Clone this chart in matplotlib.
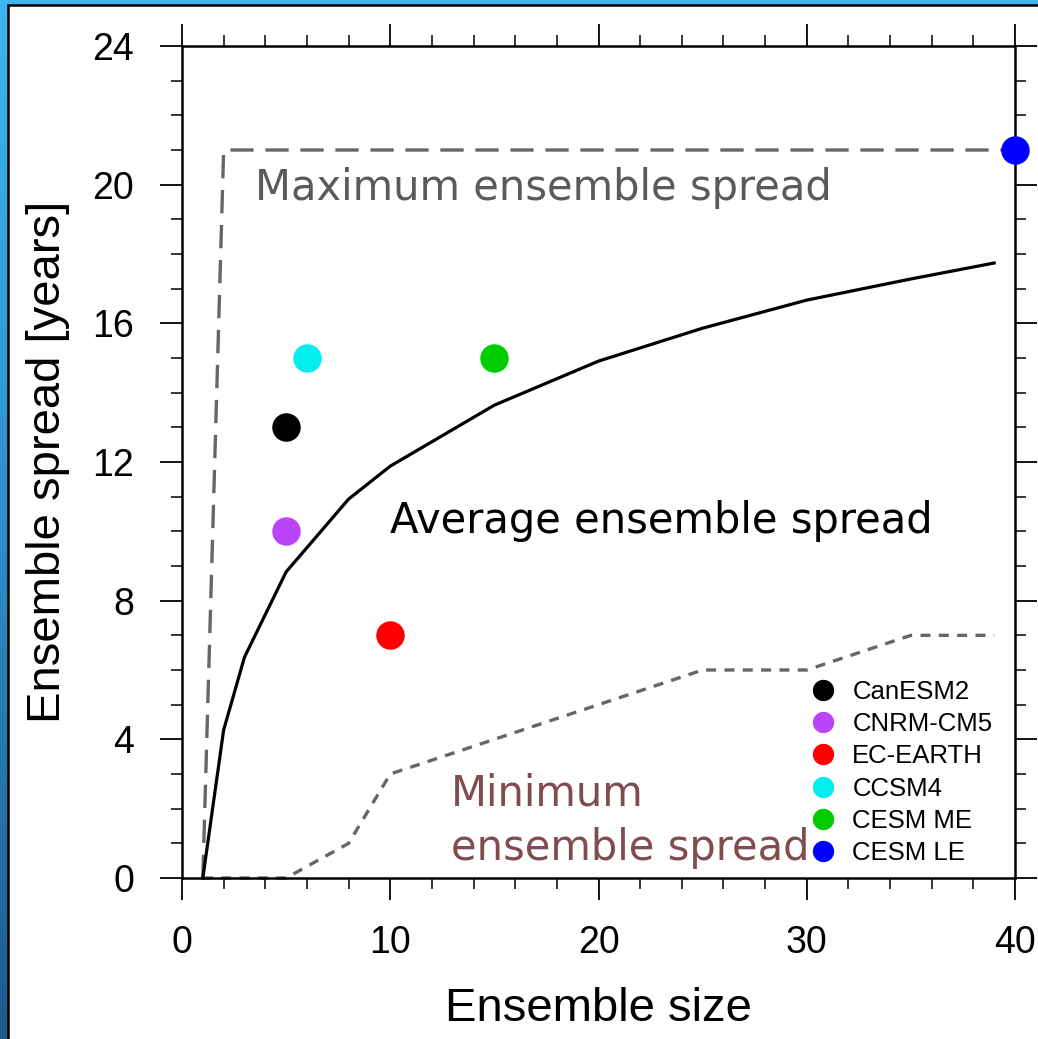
import numpy as np
import matplotlib
matplotlib.use("Agg")
import matplotlib.pyplot as plt
from matplotlib.patches import Rectangle
from matplotlib.ticker import MultipleLocator
from matplotlib.colors import LinearSegmentedColormap

# ---------------- data ----------------
avg_x = [1, 2, 3, 5, 8, 10, 15, 20, 25, 30, 35, 39]
avg_y = [0, 4.27, 6.37, 8.83, 10.93, 11.88, 13.64, 14.91, 15.86, 16.67, 17.28, 17.74]

max_x = [1, 2, 40]
max_y = [0, 21, 21]

min_x = [1, 5, 8, 10, 15, 20, 25, 30, 35, 39]
min_y = [0, 0, 1, 3, 4, 5, 6, 6, 7, 7]

models = ["CanESM2", "CNRM-CM5", "EC-EARTH", "CCSM4", "CESM ME", "CESM LE"]
model_size = [5, 5, 10, 6, 15, 40]
model_spread = [13, 10, 7, 15, 15, 21]
model_colors = ["#000000", "#BB44F8", "#FF0000", "#00EEEE", "#00CC00", "#0000FF"]

xticks = [0, 10, 20, 30, 40]
yticks = [0, 4, 8, 12, 16, 20, 24]

# ---------------- figure ----------------
W, H = 1038, 1039
fig = plt.figure(figsize=(W / 100, H / 100), dpi=100)

# background gradient
bg = fig.add_axes([0, 0, 1, 1], zorder=-10)
grad = np.linspace(0, 1, 256).reshape(-1, 1)
cmap = LinearSegmentedColormap.from_list("bg", ["#3CB6EE", "#2F8FC8", "#1E5A8C"])
bg.imshow(grad, aspect="auto", cmap=cmap, extent=[0, 1, 0, 1], origin="upper")
bg.add_patch(Rectangle((7.5 / W, -0.01), 1.1, (H - 4.5) / H + 0.01,
                       facecolor="white", edgecolor="black", linewidth=1.8,
                       transform=bg.transAxes))
bg.set_xlim(0, 1)
bg.set_ylim(0, 1)
bg.axis("off")

ax = fig.add_axes([182 / W, 161 / H, (1015 - 182) / W, (878 - 46) / H])
ax.set_facecolor("none")

ax.plot(max_x, max_y, color="#666666", lw=2.4, dashes=(7, 3.5), clip_on=False)
ax.plot(min_x, min_y, color="#666666", lw=2.4, dashes=(3, 2.5), clip_on=False)
ax.plot(avg_x, avg_y, color="black", lw=2.3, clip_on=False)

for name, xs, ys, c in zip(models, model_size, model_spread, model_colors):
    ax.plot([xs], [ys], "o", color=c, ms=20.5, mec="none", clip_on=False,
            zorder=3, label=name)

ax.set_xlim(0, 40)
ax.set_ylim(0, 24)
ax.set_xticks(xticks)
ax.set_yticks(yticks)
ax.xaxis.set_minor_locator(MultipleLocator(2))
ax.yaxis.set_minor_locator(MultipleLocator(1))
ax.tick_params(which="major", direction="out", length=15.5, width=1.3,
               top=True, right=True, labelsize=27)
ax.tick_params(axis="x", which="major", pad=18)
ax.tick_params(axis="y", which="major", pad=19)
ax.tick_params(which="minor", direction="out", length=7.8, width=1.1,
               top=True, right=True)
for lab in ax.get_xticklabels() + ax.get_yticklabels():
    lab.set_fontfamily("Liberation Sans")
for s in ax.spines.values():
    s.set_linewidth(1.8)

ax.set_xlabel("Ensemble size", fontsize=34, family="Liberation Sans", labelpad=19)
ax.set_ylabel("Ensemble spread [years]", fontsize=34, family="Liberation Sans", labelpad=16)

afont = "DejaVu Sans"
ax.text(3.5, 19.56, "Maximum ensemble spread", color="#5A5A5A", fontsize=30,
        family=afont, ha="left", va="baseline")
ax.text(10.0, 9.95, "Average ensemble spread", color="black", fontsize=30,
        family=afont, ha="left", va="baseline")
ax.text(12.9, 2.1, "Minimum", color="#804C50", fontsize=30,
        family=afont, ha="left", va="baseline")
ax.text(12.9, 0.52, "ensemble spread", color="#804C50", fontsize=30,
        family=afont, ha="left", va="baseline")

leg = ax.legend(loc="upper left", bbox_to_anchor=((815 - 182) / (1015 - 182), (878 - 680) / (878 - 46)),
                frameon=False, prop={"family": "Liberation Sans", "size": 18.5},
                handlelength=0.6, handletextpad=0.85, labelspacing=0.32,
                borderaxespad=0, borderpad=0, markerscale=0.75)

fig.savefig("out.png", dpi=100)
